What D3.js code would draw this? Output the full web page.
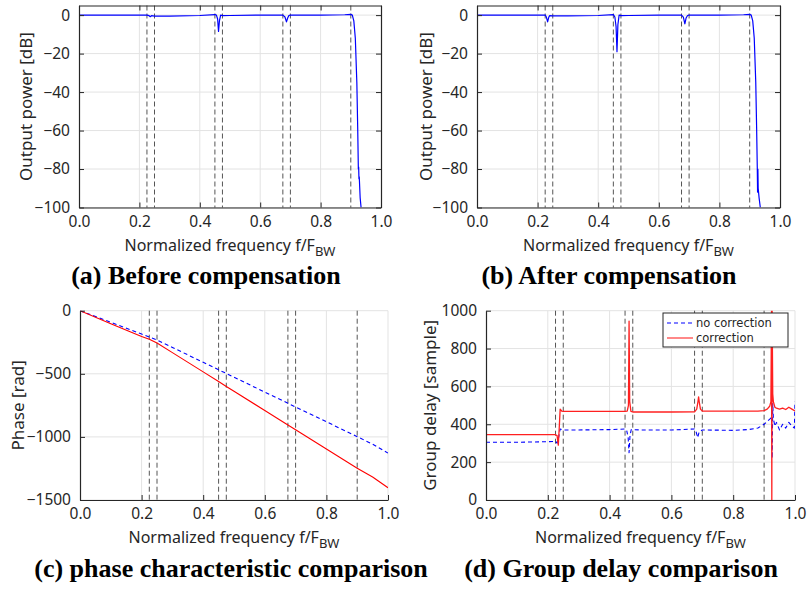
<!DOCTYPE html>
<html>
<head>
<meta charset="utf-8">
<script src="https://cdn.jsdelivr.net/npm/d3@7"></script>
<style>
  body { margin: 0; background: #fff; }
  svg { display: block; }
</style>
</head>
<body>
<div id="chart"></div>
<script>
// band edges marked with dashed lines
const bandEdges = [0.225, 0.25, 0.45, 0.475, 0.675, 0.7, 0.9]
const xTicks = [0, 0.2, 0.4, 0.6, 0.8, 1.0]

// (a) output power before compensation
const freqA = [0, 0.1, 0.2, 0.225, 0.232, 0.236, 0.24, 0.25, 0.3, 0.4, 0.45, 0.455, 0.459, 0.462, 0.465, 0.469, 0.475, 0.5, 0.6, 0.675, 0.682, 0.687, 0.691, 0.695, 0.7, 0.8, 0.88, 0.9, 0.905, 0.91, 0.915, 0.92, 0.923, 0.925, 0.926, 0.927, 0.928, 0.931, 0.934]
const powerA = [0, 0, 0, 0, -0.3, -0.8, -0.3, -0.5, -0.5, -0.2, 0.3, 0, -2, -8.5, -3, 0, -0.3, -0.2, 0, 0, -1, -3.5, -1.5, -0.2, 0, 0, 0.2, 0.4, 0, -3, -12, -35, -60, -80, -79, -85, -84, -95, -100]

// (b) output power after compensation
const freqB = [0, 0.1, 0.2, 0.225, 0.229, 0.233, 0.237, 0.24, 0.25, 0.3, 0.4, 0.45, 0.455, 0.459, 0.462, 0.465, 0.469, 0.475, 0.5, 0.6, 0.675, 0.681, 0.686, 0.69, 0.695, 0.7, 0.8, 0.88, 0.9, 0.905, 0.91, 0.915, 0.92, 0.923, 0.925, 0.926, 0.927, 0.928, 0.931, 0.935]
const powerB = [0, 0, 0, 0, -1, -3.5, -1, -0.3, -0.4, -0.4, -0.2, 0.3, -1, -6, -19, -5, 0, -0.3, -0.2, 0, 0, -1, -4.5, -1.5, -0.2, 0, 0, 0.2, 0.4, 0, -3, -12, -35, -60, -79, -92, -80, -90, -95, -100]

const yTicksPower = [0, -20, -40, -60, -80, -100]

// (c) phase
const freqPhase = [0, 0.1, 0.2, 0.225, 0.25, 0.3, 0.4, 0.45, 0.475, 0.5, 0.6, 0.675, 0.7, 0.8, 0.9, 0.93, 0.95, 1.0]
const phaseNoCorr = [0, -92, -185, -208, -232, -291, -409, -468, -497, -527, -645, -733, -763, -880, -998, -1034, -1057, -1128]
const phaseCorr = [0, -104, -205, -227, -256, -332, -485, -561, -600, -638, -791, -906, -944, -1096, -1249, -1290, -1318, -1403]
const yTicksPhase = [0, -500, -1000, -1500]

// (d) group delay
const freqGdNoCorr = [0, 0.1, 0.2, 0.225, 0.23, 0.235, 0.24, 0.25, 0.3, 0.4, 0.45, 0.455, 0.46, 0.463, 0.466, 0.47, 0.5, 0.6, 0.675, 0.68, 0.685, 0.69, 0.7, 0.8, 0.85, 0.88, 0.9, 0.91, 0.92, 0.924, 0.926, 0.928, 0.93, 0.935, 0.94, 0.95, 0.96, 0.97, 0.98, 0.99, 0.998, 1.0]
const gdNoCorr = [305, 305, 308, 310, 300, 330, 375, 370, 370, 372, 375, 370, 330, 250, 340, 372, 370, 370, 375, 360, 330, 360, 370, 368, 372, 380, 400, 415, 430, 440, 220, 510, 430, 390, 410, 370, 400, 380, 410, 390, 380, 520]
const freqGdCorr = [0, 0.1, 0.2, 0.225, 0.23, 0.234, 0.237, 0.24, 0.245, 0.25, 0.3, 0.4, 0.45, 0.457, 0.461, 0.463, 0.465, 0.469, 0.475, 0.5, 0.6, 0.675, 0.682, 0.686, 0.688, 0.69, 0.694, 0.7, 0.8, 0.88, 0.9, 0.91, 0.918, 0.922, 0.924, 0.925, 0.926, 0.928, 0.93, 0.935, 0.94, 0.95, 0.96, 0.97, 0.98, 0.99, 1.0]
const gdCorr = [345, 345, 345, 345, 340, 290, 380, 480, 470, 468, 468, 468, 468, 470, 500, 945, 520, 468, 465, 465, 465, 466, 480, 520, 545, 520, 480, 470, 470, 470, 472, 480, 495, 520, 1000, 0, 1000, 560, 520, 490, 485, 480, 485, 478, 490, 480, 470]
const yTicksGd = [0, 200, 400, 600, 800, 1000]

const legendLabels = ['no correction', 'correction']

const width = 807
const height = 591
const axisColor = '#262626'
const gridColor = '#e3e3e3'
const edgeColor = '#555555'
const tickFont = "'Noto Sans', 'DejaVu Sans', sans-serif"
const captionFont = "'Liberation Serif', 'Times New Roman', serif"

const svg = d3.select('#chart')
  .append('svg')
  .attr('width', width)
  .attr('height', height)

function drawPanel (cfg) {
  const xScale = d3.scaleLinear().domain([0, 1]).range([cfg.x0, cfg.x1])
  const yScale = d3.scaleLinear().domain(cfg.yDomain).range([cfg.yBottom, cfg.yTop])
  const g = svg.append('g')

  // grid
  g.selectAll('.vgrid')
    .data(xTicks.filter(d => d > 0 && d < 1))
    .enter().append('line')
    .attr('x1', d => xScale(d)).attr('x2', d => xScale(d))
    .attr('y1', cfg.yTop).attr('y2', cfg.yBottom)
    .attr('stroke', gridColor)
    .attr('stroke-width', 1)

  g.selectAll('.hgrid')
    .data(cfg.yTicks)
    .enter().append('line')
    .attr('x1', cfg.x0).attr('x2', cfg.x1)
    .attr('y1', d => yScale(d)).attr('y2', d => yScale(d))
    .attr('stroke', gridColor)
    .attr('stroke-width', 1)

  if (!cfg.box) {
    g.append('line')
      .attr('x1', cfg.x1).attr('x2', cfg.x1)
      .attr('y1', cfg.yTop).attr('y2', cfg.yBottom)
      .attr('stroke', gridColor)
  }

  // band edges
  g.selectAll('.edge')
    .data(bandEdges)
    .enter().append('line')
    .attr('x1', d => xScale(d)).attr('x2', d => xScale(d))
    .attr('y1', cfg.yTop).attr('y2', cfg.yBottom)
    .attr('stroke', edgeColor)
    .attr('stroke-width', 1)
    .attr('stroke-dasharray', '5 3')

  const clipId = 'clip-' + cfg.id
  svg.append('clipPath').attr('id', clipId)
    .append('rect')
    .attr('x', cfg.x0).attr('y', cfg.yTop)
    .attr('width', cfg.x1 - cfg.x0).attr('height', cfg.yBottom - cfg.yTop)

  const line = d3.line()
    .x(d => xScale(d[0]))
    .y(d => yScale(d[1]))

  cfg.series.forEach(s => {
    g.append('path')
      .datum(d3.zip(s.x, s.y))
      .attr('clip-path', `url(#${clipId})`)
      .attr('fill', 'none')
      .attr('stroke', s.color)
      .attr('stroke-width', s.width)
      .attr('stroke-dasharray', s.dash || null)
      .attr('stroke-linejoin', 'round')
      .attr('d', line)
  })

  // axes, ticks inside
  g.append('g')
    .attr('transform', `translate(0,${cfg.yBottom})`)
    .call(d3.axisBottom(xScale).tickValues(xTicks).tickFormat(d3.format('.1f'))
      .tickSizeInner(-5).tickSizeOuter(0).tickPadding(8))
  g.append('g')
    .attr('transform', `translate(${cfg.x0},0)`)
    .call(d3.axisLeft(yScale).tickValues(cfg.yTicks).tickFormat(d3.format('d'))
      .tickSizeInner(-5).tickSizeOuter(0).tickPadding(9))

  if (cfg.box) {
    g.append('g')
      .attr('transform', `translate(0,${cfg.yTop})`)
      .call(d3.axisTop(xScale).tickValues(xTicks).tickFormat('')
        .tickSizeInner(-5).tickSizeOuter(0))
    g.append('g')
      .attr('transform', `translate(${cfg.x1},0)`)
      .call(d3.axisRight(yScale).tickValues(cfg.yTicks).tickFormat('')
        .tickSizeInner(-5).tickSizeOuter(0))
  }

  g.selectAll('.domain').attr('stroke', axisColor).attr('stroke-width', 1.2)
  g.selectAll('.tick line').attr('stroke', axisColor)
  g.selectAll('.tick text')
    .attr('fill', axisColor)
    .attr('font-size', 15.5)
    .attr('font-family', tickFont)

  // x title with subscript
  const xt = g.append('text')
    .attr('x', (cfg.x0 + cfg.x1) / 2)
    .attr('y', cfg.yBottom + 43)
    .attr('text-anchor', 'middle')
    .attr('font-family', tickFont)
    .attr('font-size', 16)
    .attr('fill', axisColor)
  xt.append('tspan').text('Normalized frequency f/F')
  xt.append('tspan').attr('dy', 5).attr('font-size', 13).text('BW')

  g.append('text')
    .attr('transform', `translate(${cfg.yTitleX},${(cfg.yTop + cfg.yBottom) / 2}) rotate(-90)`)
    .attr('text-anchor', 'middle')
    .attr('font-family', tickFont)
    .attr('font-size', 17)
    .attr('fill', axisColor)
    .text(cfg.yTitle)

  g.append('text')
    .attr('x', cfg.captionX)
    .attr('y', cfg.captionY)
    .attr('text-anchor', 'middle')
    .attr('font-family', captionFont)
    .attr('font-weight', 'bold')
    .attr('font-size', 26)
    .attr('fill', '#000')
    .text(cfg.caption)

  return { xScale, yScale, g }
}

drawPanel({
  id: 'a', x0: 79, x1: 381, yTop: 5.5, yBottom: 207.5, yDomain: [-100, 5],
  yTicks: yTicksPower, box: true, yTitle: 'Output power [dB]', yTitleX: 32,
  caption: '(a) Before compensation', captionX: 206, captionY: 284,
  series: [{ x: freqA, y: powerA, color: '#0000ff', width: 1.2 }]
})

drawPanel({
  id: 'b', x0: 477, x1: 780, yTop: 5.5, yBottom: 207.5, yDomain: [-100, 5],
  yTicks: yTicksPower, box: true, yTitle: 'Output power [dB]', yTitleX: 432,
  caption: '(b) After compensation', captionX: 609, captionY: 284,
  series: [{ x: freqB, y: powerB, color: '#0000ff', width: 1.2 }]
})

drawPanel({
  id: 'c', x0: 80, x1: 388, yTop: 310.7, yBottom: 500, yDomain: [-1500, 0],
  yTicks: yTicksPhase, box: false, yTitle: 'Phase [rad]', yTitleX: 24,
  caption: '(c) phase characteristic comparison', captionX: 231, captionY: 577,
  series: [
    { x: freqPhase, y: phaseNoCorr, color: '#0000ff', width: 1.1, dash: '4 3' },
    { x: freqPhase, y: phaseCorr, color: '#ff0000', width: 1.1 }
  ]
})

const panelD = drawPanel({
  id: 'd', x0: 486, x1: 795, yTop: 310.7, yBottom: 500, yDomain: [0, 1000],
  yTicks: yTicksGd, box: false, yTitle: 'Group delay [sample]', yTitleX: 436,
  caption: '(d) Group delay comparison', captionX: 621, captionY: 577,
  series: [
    { x: freqGdNoCorr, y: gdNoCorr, color: '#0000ff', width: 1.1, dash: '4 3' },
    { x: freqGdCorr, y: gdCorr, color: '#ff2020', width: 1.3 }
  ]
})

// legend
const legend = panelD.g.append('g').attr('transform', 'translate(663,313)')
legend.append('rect')
  .attr('width', 125).attr('height', 34)
  .attr('fill', '#fff')
  .attr('stroke', axisColor)
  .attr('stroke-width', 1)
const legendStyles = [
  { color: '#0000ff', dash: '4 3', width: 1.1 },
  { color: '#ff6060', dash: null, width: 1.5 }
]
legend.selectAll('.item')
  .data(legendLabels)
  .enter().append('g')
  .attr('transform', (d, i) => `translate(0,${10 + i * 15})`)
  .each(function (d, i) {
    const item = d3.select(this)
    item.append('line')
      .attr('x1', 4).attr('x2', 30)
      .attr('stroke', legendStyles[i].color)
      .attr('stroke-width', legendStyles[i].width)
      .attr('stroke-dasharray', legendStyles[i].dash)
    item.append('text')
      .attr('x', 33).attr('dy', '0.35em')
      .attr('font-family', "'DejaVu Sans', sans-serif")
      .attr('font-size', 11.5)
      .attr('fill', axisColor)
      .text(d)
  })
</script>
</body>
</html>
